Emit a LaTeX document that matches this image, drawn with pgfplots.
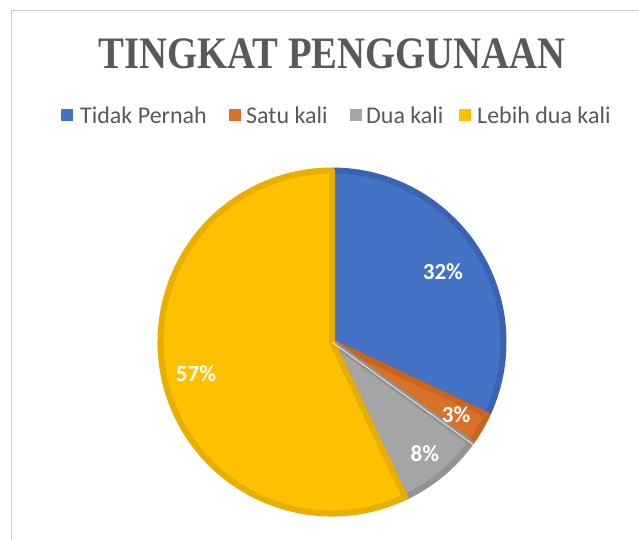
\documentclass[border=0pt]{standalone}
\usepackage{pgfplots}
\pgfplotsset{compat=1.18}
\usepackage{fontspec}
\setmainfont{Liberation Serif}
\newfontfamily\carlito{Carlito}
\definecolor{cblue}{HTML}{4472C4}
\definecolor{cblueb}{HTML}{3A64B2}
\definecolor{corange}{HTML}{D9712B}
\definecolor{corangeb}{HTML}{C9651F}
\definecolor{cgray}{HTML}{A5A5A5}
\definecolor{cgrayb}{HTML}{939393}
\definecolor{cyellow}{HTML}{FFC000}
\definecolor{cyellowb}{HTML}{E8AE00}
\definecolor{ctext}{HTML}{595959}
% data: percentages (clockwise from top)
\def\vA{32}\def\vB{3}\def\vC{8}\def\vD{57}
\begin{document}
\begin{tikzpicture}
\useasboundingbox (0pt,0pt) rectangle (639pt,-540pt);
\fill[white] (0pt,0pt) rectangle (639pt,-540pt);
\draw[color=black!20, line width=1pt] (11pt,-540pt) -- (11pt,-11pt) -- (639pt,-11pt);
\node[anchor=base, text=ctext, font=\fontsize{45}{45}\selectfont\bfseries, xscale=0.86] at (332pt,-69pt) {TINGKAT PENGGUNAAN};
% legend
\begin{scope}[font=\carlito\fontsize{24}{24}\selectfont, text=ctext]
\fill[cblue] (61pt,-109pt) rectangle (73pt,-121pt);
\node[anchor=base west, inner sep=0pt] at (80pt,-124pt) {Tidak Pernah};
\fill[corange] (229pt,-109pt) rectangle (241pt,-121pt);
\node[anchor=base west, inner sep=0pt] at (246pt,-124pt) {Satu kali};
\fill[cgray] (350pt,-109pt) rectangle (362pt,-121pt);
\node[anchor=base west, inner sep=0pt] at (366pt,-124pt) {Dua kali};
\fill[cyellow] (459pt,-109pt) rectangle (471pt,-121pt);
\node[anchor=base west, inner sep=0pt] at (477pt,-124pt) {Lebih dua kali};
\end{scope}
\begin{axis}[at={(332pt,-342pt)}, anchor=origin, x=175pt, y=175pt,
  xmin=-1.05, xmax=1.05, ymin=-1.05, ymax=1.05, hide axis, clip=false]
\pgfmathsetmacro{\aA}{90}
\pgfmathsetmacro{\aB}{\aA-3.6*\vA}
\pgfmathsetmacro{\aC}{\aB-3.6*\vB}
\pgfmathsetmacro{\aD}{\aC-3.6*\vC}
\pgfmathsetmacro{\aE}{\aD-3.6*\vD}
\edef\doslices{%
\noexpand\filldraw[fill=cblue, draw=cblueb, line width=6pt, line join=round] (axis cs:0,0) -- (axis cs:{0.98*cos(\aA)},{0.98*sin(\aA)}) arc[start angle=\aA, end angle=\aB, radius=171.5pt] -- cycle;
\noexpand\filldraw[fill=corange, draw=corangeb, line width=6pt, line join=round] (axis cs:0,0) -- (axis cs:{0.98*cos(\aB)},{0.98*sin(\aB)}) arc[start angle=\aB, end angle=\aC, radius=171.5pt] -- cycle;
\noexpand\filldraw[fill=cgray, draw=cgrayb, line width=6pt, line join=round] (axis cs:0,0) -- (axis cs:{0.98*cos(\aC)},{0.98*sin(\aC)}) arc[start angle=\aC, end angle=\aD, radius=171.5pt] -- cycle;
\noexpand\filldraw[fill=cyellow, draw=cyellowb, line width=6pt, line join=round] (axis cs:0,0) -- (axis cs:{0.98*cos(\aD)},{0.98*sin(\aD)}) arc[start angle=\aD, end angle=\aE, radius=171.5pt] -- cycle;
}
\doslices
\draw[white, line width=0.6pt] (axis cs:0,0) -- (axis cs:{cos(\aC)},{sin(\aC)});
\begin{scope}[font=\carlito\bfseries\fontsize{23}{23}\selectfont, text=white]
\node at (axis cs:0.634,0.40) {\vA\%};
\node at (axis cs:0.709,-0.417) {\vB\%};
\node at (axis cs:0.531,-0.64) {\vC\%};
\node at (axis cs:-0.777,-0.183) {\vD\%};
\end{scope}
\end{axis}
\end{tikzpicture}
\end{document}
